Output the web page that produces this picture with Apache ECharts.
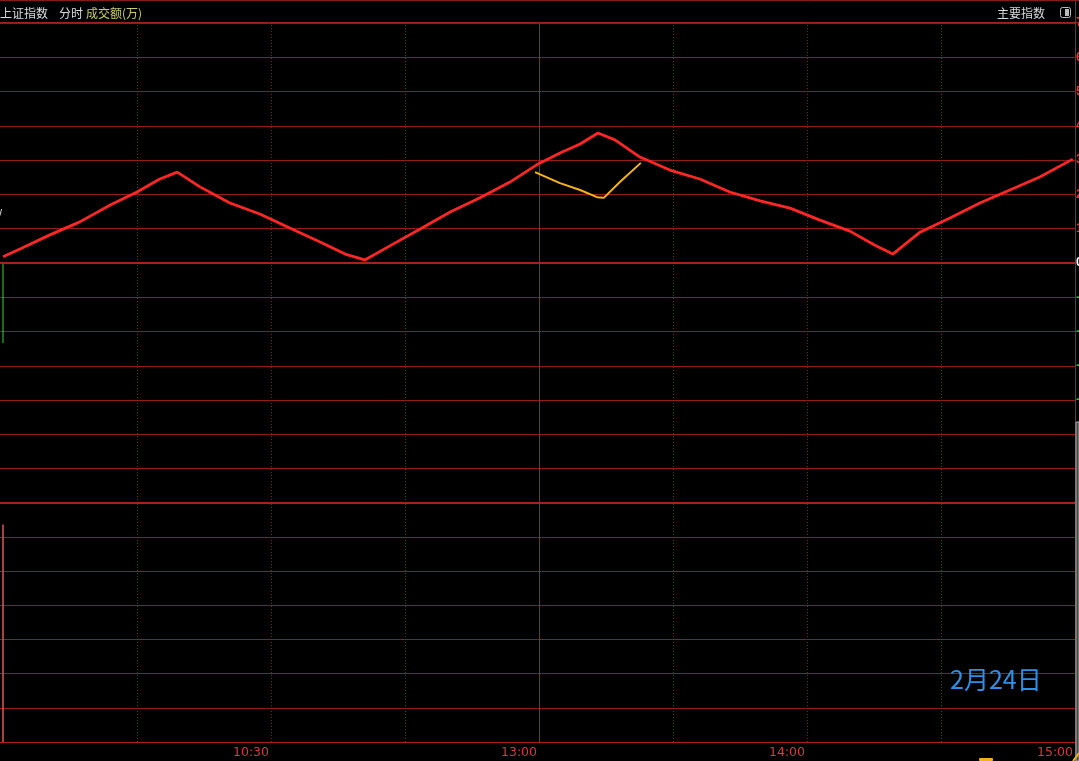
<!DOCTYPE html>
<html>
<head>
<meta charset="utf-8">
<script src="https://cdn.jsdelivr.net/npm/echarts@6/dist/echarts.min.js"></script>
<style>
  html, body { margin: 0; padding: 0; background: #000; }
  #chart { width: 1079px; height: 761px; }
</style>
</head>
<body>
<div id="chart"></div>
<script>
// ---- data (x = trading minute from 9:30, 11:30 and 13:00 share minute 120) ----
const PRICE_MIN = [0, 3.8, 10.5, 17.2, 24.0, 30.0, 35.1, 39.0, 44.1, 50.8, 57.5, 64.2, 71.0, 76.6, 81.0,
  86.6, 93.4, 100.1, 106.8, 113.5, 119.8, 124.7, 129.2, 133.2, 137.0, 142.6, 149.3, 156.0, 162.7,
  169.5, 176.2, 182.9, 189.6, 195.2, 199.2, 205.3, 212.0, 218.7, 225.4, 232.1, 239.5];
const PRICE_VAL = [0.18, 0.41, 0.82, 1.20, 1.69, 2.07, 2.45, 2.65, 2.22, 1.75, 1.43, 1.02, 0.61, 0.26, 0.09,
  0.50, 0.99, 1.49, 1.90, 2.36, 2.89, 3.21, 3.47, 3.79, 3.59, 3.09, 2.71, 2.45, 2.07,
  1.81, 1.60, 1.25, 0.93, 0.52, 0.26, 0.90, 1.31, 1.75, 2.13, 2.51, 3.03];
const AVG_MIN = [119.1, 124.7, 129.2, 133.0, 134.5, 138.1, 142.8];
const AVG_VAL = [2.65, 2.33, 2.13, 1.92, 1.90, 2.36, 2.92];
const GREEN_BAR = [[0, -2.33]];
const VOLUME_BAR = [[0, 6.37]];
const TIME_LABEL_MINUTES = [60, 120, 180, 240];
const TIME_LABELS = ['10:30', '13:00', '14:00', '15:00'];
const DOTTED_MINUTES = [30, 60, 90, 150, 180, 210];
const SOLID_MINUTES = [120];
const HEADER_LEFT = ['上证指数', '分时', '成交额(万)'];
const HEADER_RIGHT = '主要指数';
const DATE_TEXT = '2月24日';

const GRID_RED = '#961c1c';
const DOT_RED = '#8e1c1c';

function zip(a, b) { return a.map((v, i) => [v, b[i]]); }

const vLines = [];
DOTTED_MINUTES.forEach(m => vLines.push({ xAxis: m, lineStyle: { type: [1, 2], color: DOT_RED, width: 1 } }));
SOLID_MINUTES.forEach(m => vLines.push({ xAxis: m, lineStyle: { type: 'solid', color: '#a52222', width: 1 } }));

const chart = echarts.init(document.getElementById('chart'));
const cjk = '"Noto Sans CJK SC", sans-serif';

const option = {
  backgroundColor: '#000',
  animation: false,
  grid: [
    { left: 0, right: 4, top: 23, height: 480, containLabel: false, outerBoundsMode: 'none' },
    { left: 0, right: 4, top: 503, height: 239, containLabel: false, outerBoundsMode: 'none' }
  ],
  xAxis: [
    { type: 'value', gridIndex: 0, min: -0.672, max: 240,
      axisLine: { show: false }, axisTick: { show: false }, axisLabel: { show: false }, splitLine: { show: false } },
    { type: 'value', gridIndex: 1, min: -0.672, max: 240,
      axisLine: { show: true, onZero: false, lineStyle: { color: '#b01c1c', width: 1 } },
      axisTick: { show: false }, splitLine: { show: false },
      axisLabel: { show: true, customValues: TIME_LABEL_MINUTES,
        formatter: v => TIME_LABELS[TIME_LABEL_MINUTES.indexOf(v)],
        align: 'right', color: '#d23c3c', fontSize: 12.5, margin: 4, padding: [0, 2, 0, 0],
        fontFamily: '"DejaVu Sans", sans-serif', fontWeight: 'normal' } }
  ],
  yAxis: [
    { type: 'value', gridIndex: 0, min: -7, max: 7, interval: 1, position: 'right',
      axisLine: { show: false }, axisTick: { show: false },
      axisLabel: { show: true, margin: 1, fontSize: 12, fontWeight: 'bold', fontFamily: '"Liberation Sans", Arial',
        formatter: v => v.toFixed(2),
        color: v => (+v > 0 ? '#ff3030' : (+v < 0 ? '#22cc22' : '#ffffff')) },
      splitLine: { show: true, lineStyle: { color: GRID_RED, width: 1 } } },
    { type: 'value', gridIndex: 1, min: 0, max: 7, interval: 1, position: 'right',
      axisLine: { show: false }, axisTick: { show: false }, axisLabel: { show: false },
      splitLine: { show: true, lineStyle: { color: GRID_RED, width: 1 } } }
  ],
  series: [
    { type: 'line', xAxisIndex: 0, yAxisIndex: 0, data: [[0, 0]], showSymbol: false,
      lineStyle: { width: 0, opacity: 0 }, z: 1, silent: true,
      markLine: { silent: true, symbol: ['none', 'none'], label: { show: false },
        data: vLines.concat([{ yAxis: 0, lineStyle: { type: 'solid', color: '#a82020', width: 2 } },
                             { yAxis: -7, lineStyle: { type: 'solid', color: '#a82020', width: 2 } }]) } },
    { type: 'line', xAxisIndex: 1, yAxisIndex: 1, data: [[0, 0]], showSymbol: false,
      lineStyle: { width: 0, opacity: 0 }, z: 1, silent: true,
      markLine: { silent: true, symbol: ['none', 'none'], label: { show: false }, data: vLines } },
    { type: 'bar', xAxisIndex: 0, yAxisIndex: 0, data: GREEN_BAR, barWidth: 1,
      itemStyle: { color: '#3ccf3c' }, z: 3 },
    { type: 'bar', xAxisIndex: 1, yAxisIndex: 1, data: VOLUME_BAR, barWidth: 1.5,
      itemStyle: { color: '#d85a5a' }, z: 3 },
    { type: 'line', xAxisIndex: 0, yAxisIndex: 0, data: zip(PRICE_MIN, PRICE_VAL), showSymbol: false,
      lineStyle: { color: '#ff2626', width: 2.8 }, z: 5 },
    { type: 'line', xAxisIndex: 0, yAxisIndex: 0, data: zip(AVG_MIN, AVG_VAL), showSymbol: false,
      lineStyle: { color: '#f6b41a', width: 2 }, z: 6 }
  ],
  graphic: [
    { type: 'line', shape: { x1: 0, y1: 0.5, x2: 1079, y2: 0.5 }, style: { stroke: '#8a1a1a', lineWidth: 1 }, z: 10 },
    { type: 'line', shape: { x1: 0, y1: 22.5, x2: 1079, y2: 22.5 }, style: { stroke: '#a02020', lineWidth: 1 }, z: 10 },
    { type: 'line', shape: { x1: 1075.5, y1: 0, x2: 1075.5, y2: 761 }, style: { stroke: '#a02020', lineWidth: 1 }, z: 10 },
    { type: 'text', style: { x: 0, y: 13, text: HEADER_LEFT[0], fill: '#dcdcdc', font: '12px ' + cjk, textVerticalAlign: 'middle' }, z: 10 },
    { type: 'text', style: { x: 59, y: 13, text: HEADER_LEFT[1], fill: '#dcdcdc', font: '12px ' + cjk, textVerticalAlign: 'middle' }, z: 10 },
    { type: 'text', style: { x: 86, y: 13, text: HEADER_LEFT[2], fill: '#cccc6a', font: '12px ' + cjk, textVerticalAlign: 'middle' }, z: 10 },
    { type: 'text', style: { x: 997, y: 13, text: HEADER_RIGHT, fill: '#d8d8d8', font: '12px ' + cjk, textVerticalAlign: 'middle' }, z: 10 },
    { type: 'rect', shape: { x: 1060.5, y: 7.5, width: 10, height: 10, r: 2 }, style: { stroke: '#bbbbbb', fill: '#000', lineWidth: 1 }, z: 10 },
    { type: 'rect', shape: { x: 1065, y: 9, width: 4, height: 7 }, style: { fill: '#bbbbbb' }, z: 11 },
    { type: 'text', style: { x: -1, y: 214, text: '/', fill: '#dddddd', font: '11px "Liberation Sans"', textVerticalAlign: 'middle' }, z: 10 },
    { type: 'text', style: { x: 950, y: 679, text: DATE_TEXT, fill: '#2f8fe5', font: '25px ' + cjk, textVerticalAlign: 'middle' }, z: 10 },
    { type: 'rect', shape: { x: 1076, y: 422, width: 3, height: 339 }, style: { fill: '#4a4a4a', stroke: '#aaaaaa', lineWidth: 1 }, z: 12 },
    { type: 'rect', shape: { x: 979, y: 758, width: 14, height: 3, r: 1 }, style: { fill: '#f2b21e' }, z: 10 },
    { type: 'line', shape: { x1: 1073, y1: 761, x2: 1079, y2: 753 }, style: { stroke: '#f2b21e', lineWidth: 2 }, z: 13 }
  ]
};
chart.setOption(option);
</script>
</body>
</html>
